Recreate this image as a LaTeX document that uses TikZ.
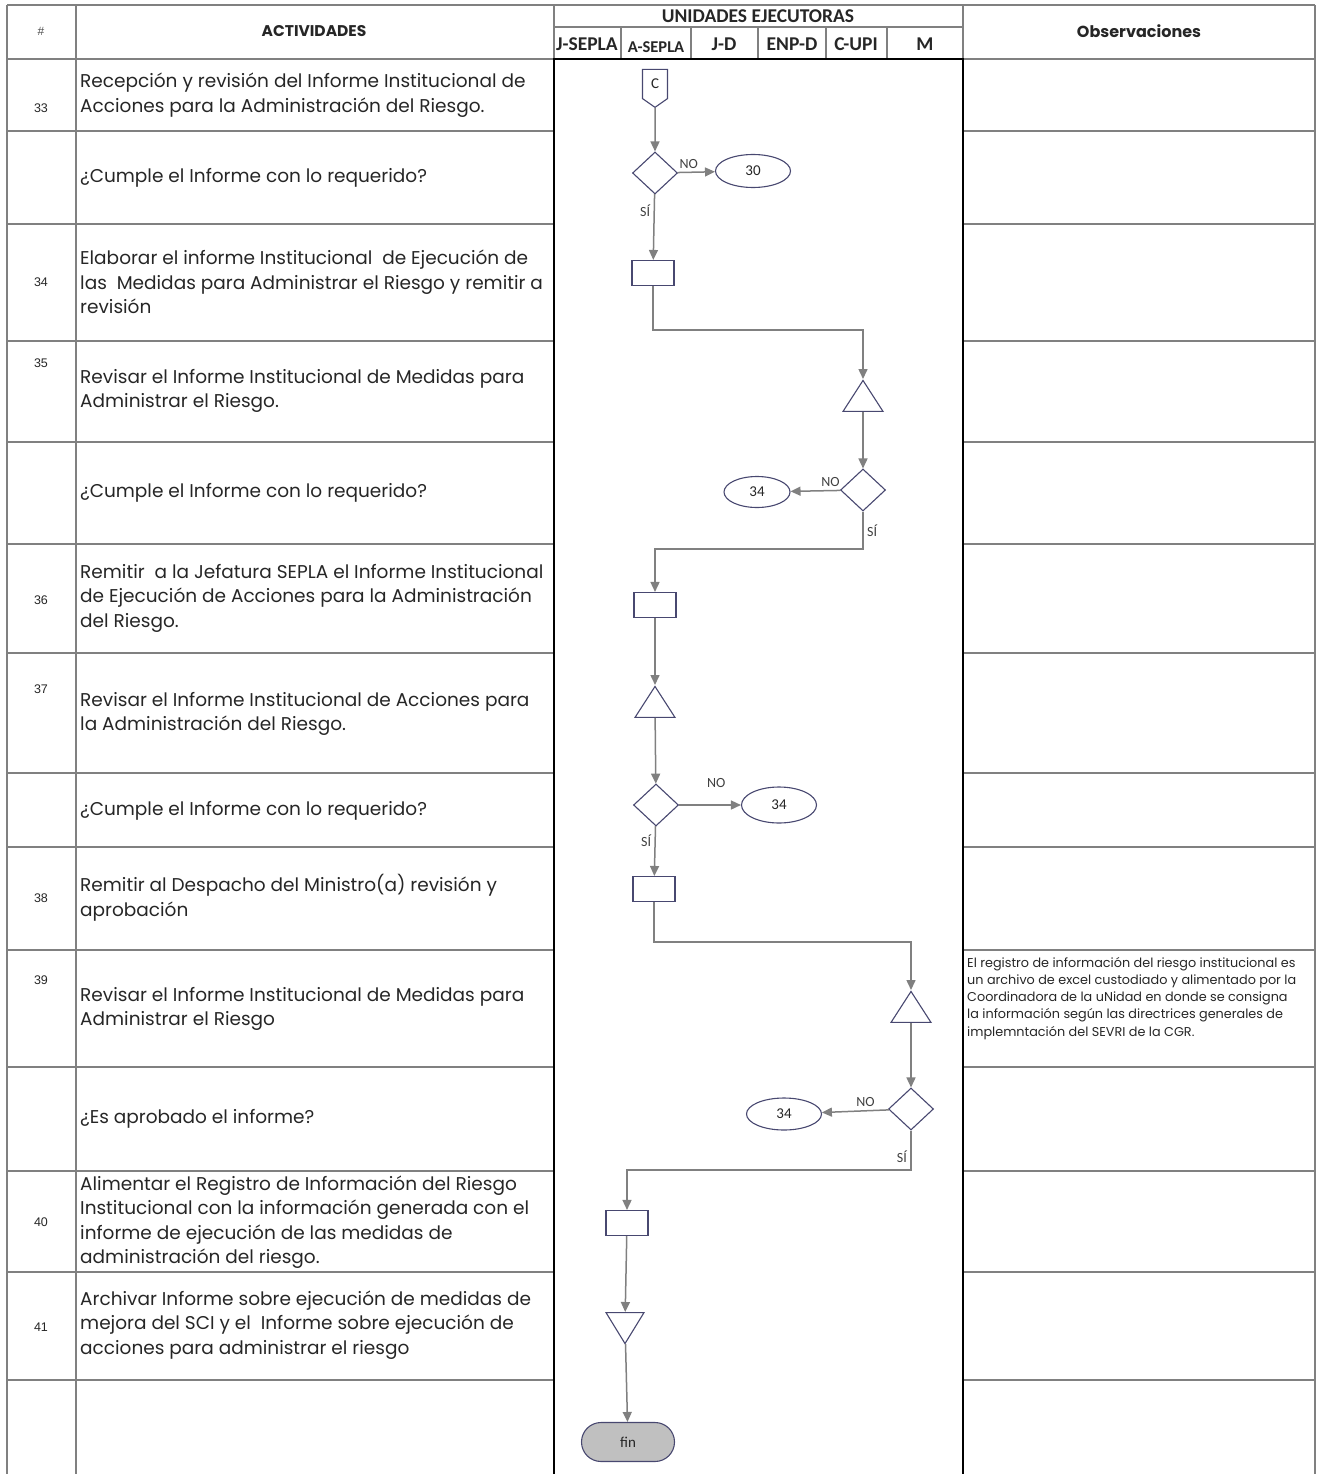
\documentclass[tikz,border=0pt]{standalone}
\usepackage{fontspec}
\setmainfont{Poppins}
\newfontfamily\calfont{Carlito}
\newfontfamily\arfont{Liberation Sans}
\usepackage{tikz}
\usetikzlibrary{positioning}
\usetikzlibrary{arrows.meta}
\usetikzlibrary{shapes.geometric,shapes.misc,shapes.symbols}
\definecolor{gridgray}{RGB}{128,128,128}
\definecolor{flowgray}{RGB}{128,128,128}
\definecolor{shapeblue}{RGB}{72,72,112}
\definecolor{fingray}{RGB}{192,192,192}

\begin{document}
\begin{tikzpicture}[x=1pt,y=-1pt]
        \useasboundingbox (0,0) rectangle (1317,1474);
        \begin{scope}[draw=gridgray, line width=1.6pt]
            \draw (7,5) -- (1315,5);
            \draw (7,5) -- (7,1474);
            \draw (76,5) -- (76,1474);
            \draw (1315,5) -- (1315,1474);
            \draw (554,5) -- (554,59);
            \draw (963,5) -- (963,59);
            \draw (554,27) -- (963,27);
            \foreach \x in {621,691,758,826,887}
                \draw (\x,27) -- (\x,59);
            \foreach \y in {59,131,224,341,442,544,653,773,847,950,1067,1171,1272,1380} {
                \draw (7,\y) -- (554,\y);
                \draw (963,\y) -- (1315,\y);
            }
        \end{scope}
        \draw[line width=2.2pt] (554,1474) -- (554,59) -- (963,59) -- (963,1474);

        \node[font=\arfont\fontsize{12}{14}\selectfont, text=black!70] (hnum) at (41,31) {\#};
        \node[font=\bfseries\fontsize{15.5}{17}\selectfont, text=black!85] (hact) at (314,31) {ACTIVIDADES};
        \node[font=\bfseries\fontsize{16}{18}\selectfont, text=black!85] (hobs) at (1139,31) {Observaciones};
        \begin{scope}[every node/.style={font=\calfont\bfseries\fontsize{19.5}{21}\selectfont, text=black!85, inner sep=0pt}]
            \node (hunits) at (758,16) {UNIDADES EJECUTORAS};
            \node (hjsepla) at (587,44) {J-SEPLA};
            \node[font=\calfont\bfseries\fontsize{16.5}{18}\selectfont] (hasepla) at (656,47) {A-SEPLA};
            \node (hjd) at (724,44) {J-D};
            \node (henpd) at (792,44) {ENP-D};
            \node (hcupi) at (856,44) {C-UPI};
            \node (hm) at (925,44) {M};
        \end{scope}

        \begin{scope}[every node/.style={font=\arfont\fontsize{12.5}{14}\selectfont, text=black!85}]
            \node (n33) at (41,108) {33};
            \node (n34) at (41,282) {34};
            \node (n35) at (41,363) {35};
            \node (n36) at (41,600) {36};
            \node (n37) at (41,689) {37};
            \node (n38) at (41,898) {38};
            \node (n39) at (41,980) {39};
            \node (n40) at (41,1222) {40};
            \node (n41) at (41,1327) {41};
        \end{scope}

        \begin{scope}[every node/.style={anchor=west, align=left, inner sep=0pt, text=black!85, font=\fontsize{18.5}{24.5}\selectfont}]
            \node (t33) at (80,95) {Recepción y revisión del Informe Institucional de\\Acciones para la Administración del Riesgo.};
            \node (tq33) at (80,178) {¿Cumple el Informe con lo requerido?};
            \node (t34) at (80,282) {Elaborar el informe Institucional \ de Ejecución de\\las \ Medidas para Administrar el Riesgo y remitir a\\revisión};
            \node (t35) at (80,391) {Revisar el Informe Institucional de Medidas para\\Administrar el Riesgo.};
            \node (tq35) at (80,493) {¿Cumple el Informe con lo requerido?};
            \node (t36) at (80,598) {Remitir \ a la Jefatura SEPLA el Informe Institucional\\de Ejecución de Acciones para la Administración\\del Riesgo.};
            \node (t37) at (80,714) {Revisar el Informe Institucional de Acciones para\\la Administración del Riesgo.};
            \node (tq37) at (80,811) {¿Cumple el Informe con lo requerido?};
            \node (t38) at (80,898) {Remitir al Despacho del Ministro(a) revisión y\\aprobación};
            \node (t39) at (80,1009) {Revisar el Informe Institucional de Medidas para\\Administrar el Riesgo};
            \node (tq39) at (80,1119) {¿Es aprobado el informe?};
            \node (t40) at (80,1222) {Alimentar el Registro de Información del Riesgo\\Institucional con la información generada con el\\informe de ejecución de las medidas de\\administración del riesgo.};
            \node (t41) at (80,1325) {Archivar Informe sobre ejecución de medidas de\\mejora del SCI y el \ Informe sobre ejecución de\\acciones para administrar el riesgo};
        \end{scope}

        \node[anchor=north west, align=left, inner sep=0pt, text=black!85, font=\fontsize{12.8}{17.2}\selectfont] (obs39) at (967,957) {El registro de información del riesgo institucional es\\un archivo de excel custodiado y alimentado por la\\Coordinadora de la uNidad en donde se consigna\\la información según las directrices generales de\\implemntación del SEVRI de la CGR.};

        \begin{scope}[every node/.style={draw=shapeblue, line width=1.1pt, fill=white, inner sep=0pt, text=black!85, font=\calfont\fontsize{15}{17}\selectfont},
                      procbox/.style={rectangle, minimum width=42, minimum height=25},
                      decbox/.style={diamond, minimum width=45, minimum height=42},
                      linkoval/.style={ellipse, minimum width=75, minimum height=33},
                      revtri/.style={isosceles triangle, isosceles triangle stretches, shape border rotate=90, minimum width=40, minimum height=31, anchor=apex},
                      archtri/.style={isosceles triangle, isosceles triangle stretches, shape border rotate=270, minimum width=38, minimum height=31, anchor=apex}]
            \node[signal, signal to=south, signal pointer angle=110, minimum width=25, minimum height=32] (offc) at (655,84) {C};
            \node[decbox] (dec33) at (655,173) {};
            \node[linkoval] (go30) at (753,171) {30};
            \node[procbox] (act34) at (653,273) {};
            \node[revtri] (rev35) at (863,379) {};
            \node[decbox] (dec35) at (863,490) {};
            \node[linkoval, minimum width=66, minimum height=31] (go34a) at (757,492) {34};
            \node[procbox] (act36) at (655,605) {};
            \node[revtri] (rev37) at (655,685) {};
            \node[decbox] (dec37) at (656,805) {};
            \node[linkoval, minimum height=36] (go34b) at (779,805) {34};
            \node[procbox] (act38) at (654,889) {};
            \node[revtri] (rev39) at (911,990) {};
            \node[decbox] (dec39) at (911,1109) {};
            \node[linkoval, minimum height=32] (go34c) at (784,1114) {34};
            \node[procbox] (act40) at (627,1223) {};
            \node[archtri] (arc41) at (625,1345) {};
            \node[rounded rectangle, fill=fingray, minimum width=93, minimum height=39] (fin) at (628,1442) {fin};
        \end{scope}

        \begin{scope}[>={Triangle[length=10pt,width=9pt]},
                      flow/.style={draw=flowgray, line width=1.5pt},
                      every edge/.style={flow},
                      every node/.style={font=\calfont\fontsize{14}{16}\selectfont, text=black!75}]
            \path [->] (offc) edge (dec33);
            \path [->] (dec33) edge node[above, pos=0.3] {NO} (go30);
            \path [->] (dec33) edge node[left, pos=0.25] {SÍ} (act34);
            \draw [->, flow] (act34) -- ++(0,57) -| (rev35.apex);
            \path [->] (rev35) edge (dec35);
            \path [->] (dec35) edge node[above, pos=0.2] {NO} (go34a);
            \draw [->, flow] (dec35) -- node[right] {SÍ} ++(0,59) -| (act36);
            \path [->] (act36) edge (rev37);
            \path [->] (rev37) edge (dec37);
            \path [->] (dec37) edge node[above=13pt, pos=0.6] {NO} (go34b);
            \path [->] (dec37) edge node[left, pos=0.3] {SÍ} (act38);
            \draw [->, flow] (act38) -- ++(0,53) -| (rev39.apex);
            \path [->] (rev39) edge (dec39);
            \path [->] (dec39) edge node[above, pos=0.35] {NO} (go34c);
            \draw [->, flow] (dec39) -- node[left, pos=0.65] {SÍ} ++(0,61) -| (act40);
            \path [->] (act40) edge (arc41);
            \path [->] (arc41) edge (fin);
        \end{scope}
\end{tikzpicture}
\end{document}
